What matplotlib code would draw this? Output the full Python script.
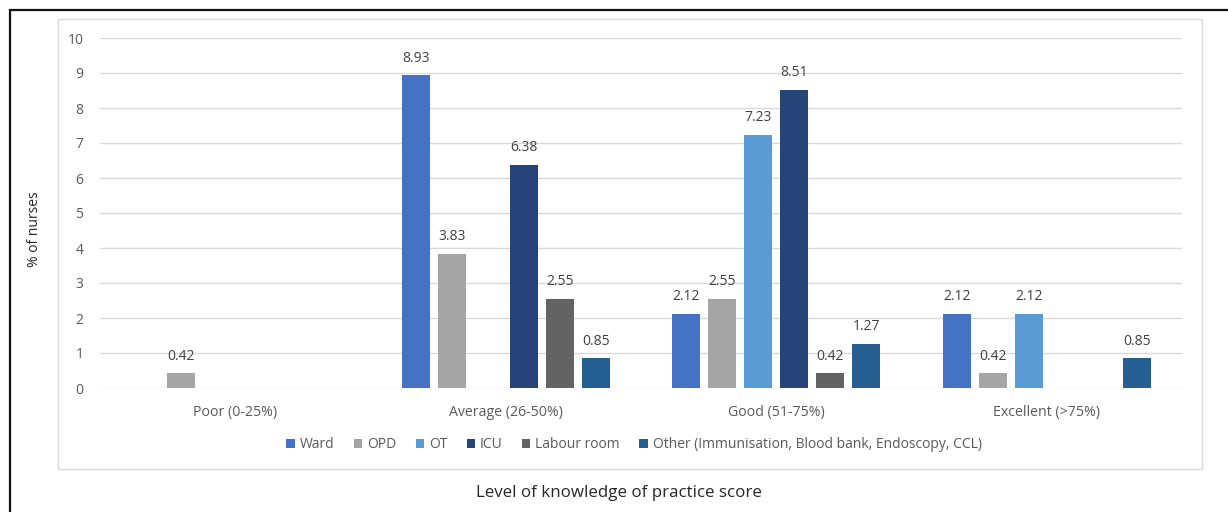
import matplotlib
matplotlib.use("Agg")
import matplotlib.pyplot as plt
import numpy as np
from matplotlib.patches import Rectangle, Patch

plt.rcParams['font.family'] = ['Open Sans', 'DejaVu Sans']

categories = ["Poor (0-25%)", "Average (26-50%)", "Good (51-75%)", "Excellent (>75%)"]
series_names = ["Ward", "OPD", "OT", "ICU", "Labour room",
                "Other (Immunisation, Blood bank, Endoscopy, CCL)"]
ward = [0, 8.93, 2.12, 2.12]
opd = [0.42, 3.83, 2.55, 0.42]
ot = [0, 0, 7.23, 2.12]
icu = [0, 6.38, 8.51, 0]
labour = [0, 2.55, 0.42, 0]
other = [0, 0.85, 1.27, 0.85]
series_values = [ward, opd, ot, icu, labour, other]
colors = ["#4472C4", "#A5A5A5", "#5B9BD5", "#264478", "#636363", "#255E91"]
y_ticks = list(range(0, 11))

W, H = 1228, 512
fig = plt.figure(figsize=(W / 100, H / 100), dpi=100)

# outer frame and chart-area box
fig.patches.append(Rectangle((9.5 / W, -0.1), 1.2, (H - 9.5) / H + 0.1,
                             transform=fig.transFigure, fill=False,
                             edgecolor="#111111", linewidth=1.6, zorder=0))
fig.patches.append(Rectangle((58 / W, (H - 469) / H), (1202 - 58) / W, (469 - 19) / H,
                             transform=fig.transFigure, fill=False,
                             edgecolor="#D9D9D9", linewidth=1.0, zorder=0))

ax = fig.add_axes([100 / W, (H - 388) / H, (1182 - 100) / W, (388 - 38) / H])
x = np.arange(len(categories))
slot = 0.133
bw = 0.1035
n = len(series_values)
for i, (name, vals, c) in enumerate(zip(series_names, series_values, colors)):
    xs = x + (i - (n - 1) / 2) * slot
    for xi, v in zip(xs, vals):
        if v <= 0:
            continue
        ax.bar(xi, v, width=bw, color=c, zorder=3)
        ax.annotate(f"{v:.2f}", (xi, v), xytext=(0, 7), textcoords="offset points",
                    ha="center", va="bottom", fontsize=10, color="#404040")

ax.set_xlim(-0.5, len(categories) - 0.5)
ax.set_ylim(0, 10)
ax.set_yticks(y_ticks)
ax.set_xticks(x)
ax.set_xticklabels(categories)
ax.tick_params(axis="y", length=0, pad=12, labelsize=10, labelcolor="#595959")
ax.tick_params(axis="x", length=0, pad=12, labelsize=10.2, labelcolor="#595959")
ax.grid(axis="y", color="#D9D9D9", linewidth=1.0, zorder=0)
for s in ax.spines.values():
    s.set_visible(False)
ax.set_facecolor("none")

handles = [Patch(facecolor=c, edgecolor="none") for c in colors]
fig.legend(handles, series_names, loc="center", bbox_to_anchor=(634 / W, (H - 445) / H),
           ncol=6, frameon=False, fontsize=10, handlelength=0.6, handleheight=0.6,
           handletextpad=0.35, columnspacing=1.4, labelcolor="#595959")

fig.text(34 / W, (H - 229) / H, "% of nurses", rotation=90, ha="center", va="center",
         fontsize=10, color="#262626")
fig.text(619 / W, (H - 493) / H, "Level of knowledge of practice score", ha="center",
         va="center", fontsize=12.2, color="#262626")

fig.savefig("out.png", dpi=100)
